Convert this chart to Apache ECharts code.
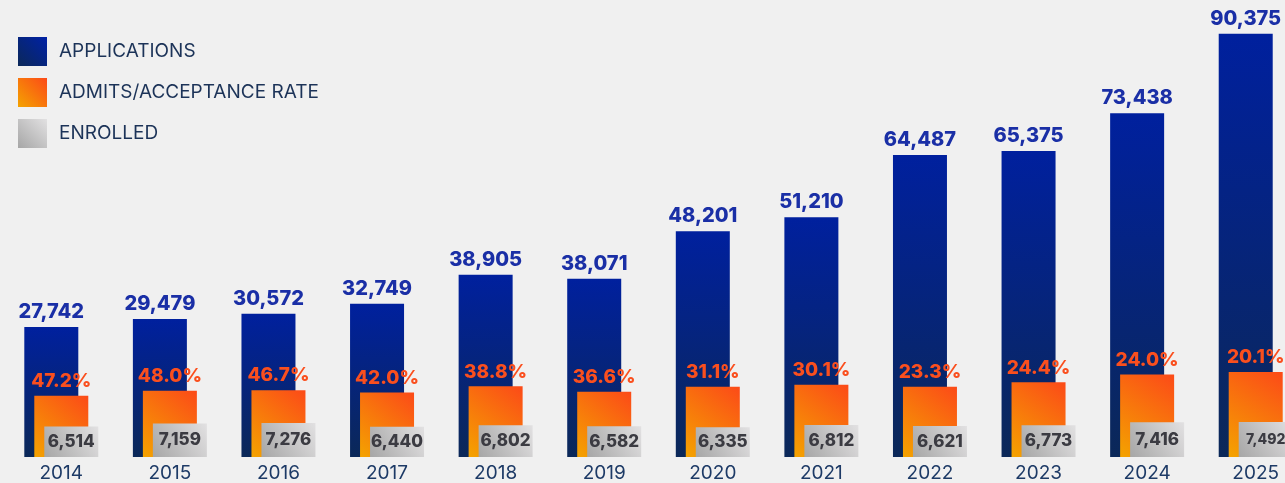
<!DOCTYPE html>
<html>
<head>
<meta charset="utf-8">
<script src="https://cdn.jsdelivr.net/npm/echarts@6/dist/echarts.min.js"></script>
<style>
  html, body { margin: 0; padding: 0; background: #f0f0f0; overflow: hidden; }
  /* el grafico original queda recortado a la derecha */
  #chart { width: 1310px; height: 483px; }
</style>
</head>
<body>
<div id="chart"></div>
<script>
// datos
const years = ['2014', '2015', '2016', '2017', '2018', '2019', '2020', '2021', '2022', '2023', '2024', '2025'];
const applications = [27742, 29479, 30572, 32749, 38905, 38071, 48201, 51210, 64487, 65375, 73438, 90375];
const admits = [13094, 14150, 14277, 13755, 15095, 13934, 14991, 15414, 15025, 15952, 17625, 18165];
const acceptanceRate = ['47.2%', '48.0%', '46.7%', '42.0%', '38.8%', '36.6%', '31.1%', '30.1%', '23.3%', '24.4%', '24.0%', '20.1%'];
const enrolled = [6514, 7159, 7276, 6440, 6802, 6582, 6335, 6812, 6621, 6773, 7416, 7492];

const FONT = 'Inter, "Noto Sans", sans-serif';
const fmt = (v) => v.toLocaleString('en-US');

const chart = echarts.init(document.getElementById('chart'));

const blueBar = new echarts.graphic.LinearGradient(0, 0, 0, 1, [
  { offset: 0, color: '#00209e' },
  { offset: 1, color: '#0b2858' },
]);
const orangeBar = new echarts.graphic.LinearGradient(0, 1, 1, 0, [
  { offset: 0, color: '#f4a300' },
  { offset: 1, color: '#fc4a18' },
]);
const grayBar = new echarts.graphic.LinearGradient(0, 1, 1, 0, [
  { offset: 0, color: '#a6a6a6' },
  { offset: 1, color: '#e2e1e2' },
]);
const blueIcon = new echarts.graphic.LinearGradient(0, 1, 1, 0, [
  { offset: 0, color: '#0b2858' },
  { offset: 1, color: '#0021a6' },
]);

const option = {
  backgroundColor: '#f0f0f0',
  animation: false,
  legend: {
    orient: 'vertical',
    left: 18,
    top: 37,
    padding: 0,
    itemWidth: 29,
    itemHeight: 29,
    itemGap: 12,
    icon: 'rect',
    textStyle: {
      fontFamily: FONT,
      fontSize: 19,
      color: '#1c3358',
      padding: [0, 0, 0, 7],
    },
    data: [
      { name: 'APPLICATIONS', itemStyle: { color: blueIcon } },
      { name: 'ADMITS/ACCEPTANCE RATE', itemStyle: { color: orangeBar } },
      { name: 'ENROLLED', itemStyle: { color: grayBar } },
    ],
  },
  grid: {
    left: 7,
    right: 0,
    top: 0,
    bottom: 26,
  },
  xAxis: {
    type: 'category',
    data: years,
    axisLine: { show: false },
    axisTick: { show: false },
    axisLabel: {
      fontFamily: FONT,
      fontSize: 19,
      color: '#1d3a66',
      margin: 7,
    },
  },
  yAxis: {
    type: 'value',
    min: 0,
    max: 97600,
    show: false,
  },
  series: [
    {
      name: 'APPLICATIONS',
      type: 'bar',
      data: applications,
      barWidth: 54,
      barGap: '-81.5%',
      itemStyle: { color: blueBar },
      label: {
        show: true,
        position: 'top',
        distance: 5,
        fontFamily: FONT,
        fontSize: 20,
        fontWeight: 800,
        color: '#1a2fa6',
        formatter: (p) => fmt(p.value),
      },
    },
    {
      name: 'ADMITS/ACCEPTANCE RATE',
      type: 'bar',
      data: admits,
      barWidth: 54,
      itemStyle: { color: orangeBar },
      label: {
        show: true,
        position: 'top',
        distance: 5,
        fontFamily: FONT,
        fontSize: 19,
        fontWeight: 800,
        color: '#fa4f1e',
        formatter: (p) => acceptanceRate[p.dataIndex],
      },
    },
    {
      name: 'ENROLLED',
      type: 'bar',
      data: enrolled.map((v, i) => (i === enrolled.length - 1
        ? { value: v, label: { fontSize: 14 } }
        : v)),
      barWidth: 54,
      itemStyle: { color: grayBar },
      label: {
        show: true,
        position: 'inside',
        fontFamily: FONT,
        fontSize: 17,
        fontWeight: 800,
        color: '#3b3b42',
        formatter: (p) => fmt(p.value),
      },
    },
  ],
};

chart.setOption(option);
</script>
</body>
</html>
